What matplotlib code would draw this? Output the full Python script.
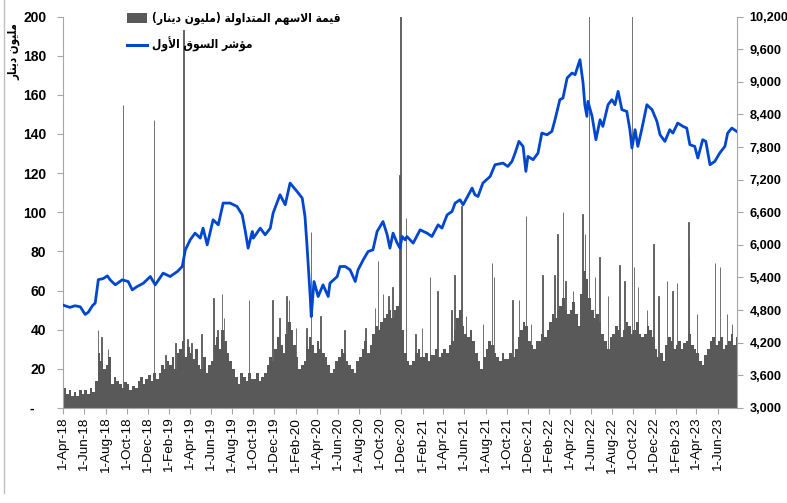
import matplotlib
matplotlib.use('Agg')
import matplotlib.pyplot as plt
import matplotlib.dates as mdates
from matplotlib.patches import Patch
from matplotlib.lines import Line2D
from matplotlib.font_manager import FontProperties
import pandas as pd
import numpy as np

# ---------------- data ----------------
# Traded value (million dinar), four readings per month, Apr-2018 .. Jul-2023
trade_value_qm = [
    10, 7, 9, 6,     8, 6, 9, 7,      9, 7, 10, 8,     14, 28, 24, 20,
    22, 26, 12, 16,  14, 12, 10, 13,  12, 9, 11, 10,   14, 16, 12, 15,
    17, 14, 18, 15,  18, 22, 20, 24,  22, 26, 20, 28,  30, 34, 26, 31,
    28, 25, 30, 22,  20, 26, 18, 22,  24, 32, 36, 30,  40, 34, 28, 24,
    20, 16, 12, 18,  16, 14, 18, 15,  15, 18, 14, 16,  18, 22, 26, 24,
    30, 36, 32, 28,  38, 44, 40, 32,  26, 20, 22, 24,  30, 36, 32, 28,
    34, 30, 28, 26,  22, 18, 20, 24,  26, 30, 28, 24,  22, 20, 18, 24,
    26, 30, 34, 28,  32, 38, 42, 40,  44, 46, 48, 50,  46, 50, 52, 54,
    40, 28, 24, 22,  24, 28, 30, 26,  26, 28, 24, 27,  27, 30, 26, 28,
    30, 28, 32, 34,  40, 46, 50, 42,  38, 36, 40, 34,  28, 24, 20, 26,
    30, 34, 32, 28,  26, 24, 28, 25,  25, 28, 26, 30,  36, 40, 44, 42,
    34, 32, 30, 34,  34, 38, 36, 40,  44, 48, 46, 50,  52, 56, 50, 48,
    50, 54, 48, 42,  58, 70, 66, 56,  50, 46, 48, 44,  38, 34, 30, 36,
    38, 42, 40, 36,  40, 44, 42, 38,  40, 44, 38, 36,  38, 42, 40, 36,
    30, 26, 28, 24,  32, 36, 34, 30,  32, 34, 30, 33,  34, 38, 32, 30,
    28, 24, 22, 27,  30, 34, 36, 32,  34, 36, 30, 32,  34, 38, 32, 36,
]

# Single-day peaks of traded value (million dinar)
spike_dates = [
    '2018-07-10', '2018-07-20', '2018-08-08', '2018-09-20', '2018-12-19',
    '2019-01-20', '2019-02-18', '2019-03-13', '2019-03-25', '2019-04-05',
    '2019-05-05', '2019-06-08', '2019-06-20', '2019-07-02', '2019-07-08',
    '2019-09-19', '2019-11-26', '2019-12-15', '2020-01-04', '2020-01-12',
    '2020-02-01', '2020-03-02', '2020-03-16', '2020-04-12', '2020-06-20',
    '2020-08-20', '2020-09-16', '2020-09-25', '2020-10-09', '2020-10-25',
    '2020-11-05', '2020-11-25', '2020-11-28', '2020-12-15', '2021-01-10',
    '2021-01-30', '2021-02-22', '2021-03-15', '2021-04-25', '2021-05-03',
    '2021-05-24', '2021-06-05', '2021-07-25', '2021-08-20', '2021-08-25',
    '2021-10-18', '2021-11-05', '2021-11-25', '2021-12-10', '2022-01-12',
    '2022-02-15', '2022-02-24', '2022-03-12', '2022-03-20', '2022-04-10',
    '2022-05-08', '2022-05-15', '2022-05-26', '2022-06-12', '2022-06-25',
    '2022-07-20', '2022-08-22', '2022-09-05', '2022-09-27', '2022-10-03',
    '2022-10-15', '2022-11-10', '2022-11-28', '2022-12-12', '2023-01-06',
    '2023-01-22', '2023-02-04', '2023-03-09', '2023-03-11', '2023-04-03',
    '2023-05-25', '2023-06-08', '2023-06-28', '2023-07-12',
]
spike_values = [
    40, 36, 30, 155, 147,
    27, 33, 193, 35, 33,
    38, 56, 40, 58, 46,
    55, 55, 46, 57, 55,
    41, 41, 90, 47, 40,
    41, 51, 75, 58, 57,
    62, 119, 210, 97, 38,
    41, 67, 60, 50, 68,
    103, 47, 43, 74, 67,
    55, 55, 98, 43, 68,
    68, 89, 100, 65, 60,
    99, 89, 210, 67, 77,
    57, 73, 65, 210, 72,
    62, 50, 84, 57, 65,
    60, 64, 95, 77, 48,
    74, 72, 48, 43,
]

# Premier market index (right axis)
index_dates = [
    '2018-04-01', '2018-04-20', '2018-05-05', '2018-05-20', '2018-06-03', '2018-06-12',
    '2018-06-24', '2018-07-02', '2018-07-11', '2018-07-25', '2018-08-06', '2018-08-15',
    '2018-08-29', '2018-09-18', '2018-10-05', '2018-10-17', '2018-10-31', '2018-11-18',
    '2018-12-08', '2018-12-22', '2019-01-14', '2019-02-03', '2019-02-24', '2019-03-10',
    '2019-03-19', '2019-04-02', '2019-04-16', '2019-05-01', '2019-05-09', '2019-05-21',
    '2019-06-07', '2019-06-22', '2019-07-06', '2019-07-26', '2019-08-15', '2019-08-30',
    '2019-09-08', '2019-09-16', '2019-09-28', '2019-10-01', '2019-10-21', '2019-11-04',
    '2019-11-19', '2019-11-27', '2019-12-17', '2020-01-01', '2020-01-15', '2020-02-04',
    '2020-02-19', '2020-02-27', '2020-03-04', '2020-03-13', '2020-03-16', '2020-03-24',
    '2020-04-05', '2020-04-19', '2020-05-04', '2020-05-09', '2020-05-30', '2020-06-07',
    '2020-06-22', '2020-07-06', '2020-07-21', '2020-07-29', '2020-08-13', '2020-08-27',
    '2020-09-10', '2020-09-22', '2020-10-09', '2020-10-21', '2020-10-29', '2020-11-07',
    '2020-11-19', '2020-11-27', '2020-12-03', '2020-12-12', '2020-12-17', '2021-01-04',
    '2021-01-24', '2021-02-13', '2021-02-27', '2021-03-17', '2021-03-28', '2021-04-12',
    '2021-04-26', '2021-05-05', '2021-05-19', '2021-05-28', '2021-06-23', '2021-07-01',
    '2021-07-10', '2021-07-24', '2021-08-14', '2021-08-28', '2021-09-20', '2021-10-04',
    '2021-10-16', '2021-10-25', '2021-11-05', '2021-11-17', '2021-11-25', '2021-12-01',
    '2021-12-16', '2021-12-30', '2022-01-10', '2022-01-25', '2022-02-08', '2022-02-17',
    '2022-03-03', '2022-03-12', '2022-03-24', '2022-04-07', '2022-04-16', '2022-04-30',
    '2022-05-09', '2022-05-14', '2022-05-20', '2022-05-23', '2022-06-04', '2022-06-15',
    '2022-06-27', '2022-07-05', '2022-07-20', '2022-07-31', '2022-08-09', '2022-08-18',
    '2022-08-29', '2022-09-12', '2022-09-21', '2022-09-27', '2022-10-06', '2022-10-14',
    '2022-10-26', '2022-11-09', '2022-11-24', '2022-12-08', '2022-12-17', '2022-12-31',
    '2023-01-14', '2023-01-23', '2023-02-06', '2023-02-21', '2023-03-04', '2023-03-13',
    '2023-03-27', '2023-04-05', '2023-04-19', '2023-04-28', '2023-05-10', '2023-05-24',
    '2023-06-07', '2023-06-22', '2023-06-30', '2023-07-12', '2023-07-26',
]
index_values = [
    4890, 4850, 4880, 4860, 4720, 4760,
    4880, 4930, 5360, 5380, 5430, 5350,
    5265, 5357, 5326, 5172, 5234, 5295,
    5418, 5265, 5480, 5418, 5510, 5602,
    5909, 6093, 6216, 6124, 6308, 6001,
    6461, 6369, 6769, 6769, 6707, 6553,
    6246, 5940, 6246, 6124, 6308, 6185,
    6308, 6584, 6922, 6738, 7137, 6983,
    6861, 6523, 5970, 5050, 4681, 5326,
    5050, 5265, 5050, 5295, 5418, 5602,
    5602, 5541, 5326, 5541, 5725, 5878,
    5909, 6246, 6430, 6185, 5940, 6216,
    6032, 5940, 6154, 6093, 6154, 6032,
    6277, 6216, 6154, 6369, 6308, 6553,
    6614, 6768, 6830, 6738, 7045, 6922,
    6891, 7137, 7259, 7474, 7505, 7443,
    7536, 7689, 7904, 7812, 7352, 7628,
    7567, 7689, 8057, 8026, 8088, 8302,
    8671, 8702, 9070, 9162, 9131, 9407,
    8978, 8579, 8364, 8640, 8364, 7935,
    8302, 8180, 8579, 8671, 8579, 8825,
    8487, 8456, 8119, 7782, 8119, 7812,
    8149, 8579, 8487, 8272, 8026, 7904,
    8119, 8057, 8241, 8180, 8149, 7843,
    7812, 7598, 7935, 7904, 7474, 7536,
    7689, 7812, 8057, 8149, 8088,
]

left_ticks = list(range(0, 201, 20))
left_labels = ['-   '] + [str(v) for v in left_ticks[1:]]
right_ticks = list(range(3000, 10201, 600))
right_labels = [f'{v:,}' for v in right_ticks]
x_tick_dates = pd.date_range('2018-04-01', '2023-06-01', freq='2MS')
x_tick_labels = [f'{d.day}-{d.strftime("%b")}-{d.strftime("%y")}' for d in x_tick_dates]

legend_bar = 'قيمة الاسهم المتداولة (مليون دينار)'
legend_line = 'مؤشر السوق الأول'
left_title = 'مليون دينار'

# ---------------- Arabic shaping (presentation forms) ----------------
FORMS = {
    'ا': ('\uFE8D', '\uFE8E', None, None),
    'أ': ('\uFE83', '\uFE84', None, None),
    'ت': ('\uFE95', '\uFE96', '\uFE97', '\uFE98'),
    'ة': ('\uFE93', '\uFE94', None, None),
    'د': ('\uFEA9', '\uFEAA', None, None),
    'ر': ('\uFEAD', '\uFEAE', None, None),
    'س': ('\uFEB1', '\uFEB2', '\uFEB3', '\uFEB4'),
    'ش': ('\uFEB5', '\uFEB6', '\uFEB7', '\uFEB8'),
    'ق': ('\uFED5', '\uFED6', '\uFED7', '\uFED8'),
    'ل': ('\uFEDD', '\uFEDE', '\uFEDF', '\uFEE0'),
    'م': ('\uFEE1', '\uFEE2', '\uFEE3', '\uFEE4'),
    'ن': ('\uFEE5', '\uFEE6', '\uFEE7', '\uFEE8'),
    'ه': ('\uFEE9', '\uFEEA', '\uFEEB', '\uFEEC'),
    'و': ('\uFEED', '\uFEEE', None, None),
    'ؤ': ('\uFE85', '\uFE86', None, None),
    'ي': ('\uFEF1', '\uFEF2', '\uFEF3', '\uFEF4'),
    'لا': ('\uFEFB', '\uFEFC', None, None),
    'لأ': ('\uFEF7', '\uFEF8', None, None),
}


def shape(text):
    toks = []
    i = 0
    while i < len(text):
        if text[i] == 'ل' and i + 1 < len(text) and text[i + 1] in 'اأ':
            toks.append(text[i:i + 2])
            i += 2
        else:
            toks.append(text[i])
            i += 1

    def dual(t):
        return t in FORMS and FORMS[t][2] is not None

    out = []
    for k, t in enumerate(toks):
        if t not in FORMS:
            out.append(t)
            continue
        prev = toks[k - 1] if k > 0 else None
        nxt = toks[k + 1] if k + 1 < len(toks) else None
        jp = prev is not None and dual(prev)
        jn = dual(t) and nxt is not None and nxt in FORMS
        iso, fin, ini, med = FORMS[t]
        if jp and jn:
            out.append(med)
        elif jp:
            out.append(fin)
        elif jn:
            out.append(ini)
        else:
            out.append(iso)
    s = ''.join(out)[::-1]
    return s.translate(str.maketrans('()', ')('))


# ---------------- figure ----------------
plt.rcParams['font.family'] = ['Liberation Sans', 'DejaVu Sans']
BAR_C = '#595959'
LINE_C = '#0046CF'
AX_C = '#A6A6A6'

fig = plt.figure(figsize=(7.87, 5.03), dpi=100)
ax = fig.add_axes([0.080, 0.189, 0.8565, 0.778])

# quarter-month bar positions
months = pd.date_range('2018-04-01', '2023-07-01', freq='MS')
pos, wid = [], []
for m in months:
    n = m.days_in_month
    for k in range(4):
        pos.append(mdates.date2num(m) + (k + 0.5) * n / 4.0)
        wid.append(n / 4.0)
ax.bar(pos, trade_value_qm, width=wid, color=BAR_C, linewidth=0, zorder=2)

sp_x = mdates.date2num(pd.to_datetime(spike_dates))
ax.bar(sp_x, spike_values, width=1.5, color=BAR_C, edgecolor=BAR_C,
       linewidth=0.6, zorder=2)

ax.set_ylim(0, 200)
ax.set_yticks(left_ticks)
ax.set_yticklabels(left_labels, fontweight='bold', fontsize=10)
ax.set_xlim(mdates.date2num(pd.Timestamp('2018-03-31')),
            mdates.date2num(pd.Timestamp('2023-07-27')))
ax.set_xticks(mdates.date2num(x_tick_dates))
ax.set_xticklabels(x_tick_labels, rotation=90, fontsize=9.7)
ax.tick_params(axis='y', direction='out', length=4, color=AX_C, pad=8)
ax.tick_params(axis='x', direction='out', length=4, color=AX_C, pad=3)
for s in ['top', 'right']:
    ax.spines[s].set_visible(False)
for s in ['left', 'bottom']:
    ax.spines[s].set_color(AX_C)

ax2 = ax.twinx()
ax2.plot(mdates.date2num(pd.to_datetime(index_dates)), index_values,
         color=LINE_C, lw=2.0, zorder=3)
ax2.set_ylim(3000, 10200)
ax2.set_yticks(right_ticks)
ax2.set_yticklabels(right_labels, fontweight='bold', fontsize=9.2)
ax2.tick_params(axis='y', direction='out', length=4, color=AX_C, pad=5)
for s in ['top', 'left', 'bottom']:
    ax2.spines[s].set_visible(False)
ax2.spines['right'].set_color(AX_C)

# Arabic texts
arfont = FontProperties(family='DejaVu Sans', weight='bold', size=8.6, stretch='condensed')
fig.text(14 / 787, 1 - 52 / 503, shape(left_title), rotation=90,
         ha='center', va='center',
         fontproperties=FontProperties(family='DejaVu Sans', weight='bold', size=8.3, stretch='condensed'))

handles = [Patch(facecolor=BAR_C, edgecolor='none'),
           Line2D([], [], color=LINE_C, lw=2.2)]
fig.legend(handles, [shape(legend_bar), shape(legend_line)],
           loc='upper left', bbox_to_anchor=(127 / 787, 1 - 12 / 503),
           frameon=False, borderpad=0, borderaxespad=0, handlelength=1.7,
           handleheight=0.9, handletextpad=0.4, labelspacing=1.0, prop=arfont)

# chart-area border on the left
fig.add_artist(Line2D([4 / 787, 4 / 787], [1 - 493 / 503, 1], color='#BFBFBF', lw=1,
                      transform=fig.transFigure))

fig.savefig('out.png', dpi=100)
